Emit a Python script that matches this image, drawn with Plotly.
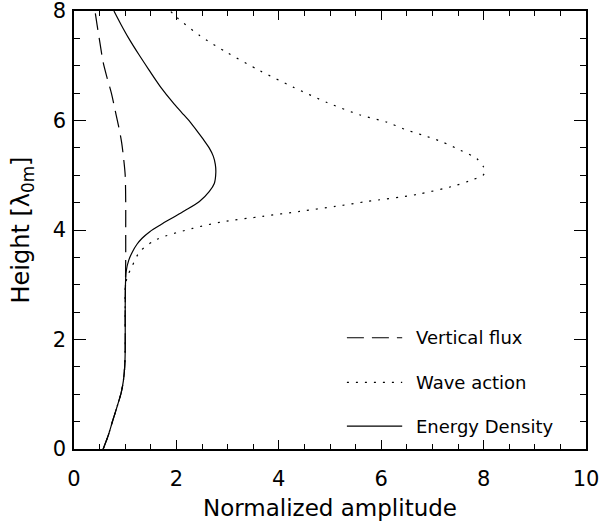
import plotly.graph_objects as go

# Energy density (solid)
y_ed = [0, 0.25, 0.53, 0.8, 1.02, 1.25, 1.5, 1.8, 2.5, 3.0, 3.25, 3.45, 3.6, 3.74, 3.85, 3.97,
        4.1, 4.21, 4.35, 4.52, 4.7, 4.85, 5.05, 5.2, 5.35, 5.5, 5.65, 5.8, 5.97, 6.15, 6.33,
        6.6, 6.93, 7.2, 7.5, 7.75, 8.0]
x_ed = [0.57, 0.67, 0.76, 0.85, 0.92, 0.965, 0.99, 1.0, 1.0, 1.005, 1.02, 1.07, 1.14, 1.23, 1.33, 1.48,
        1.7, 1.9, 2.16, 2.45, 2.64, 2.74, 2.77, 2.76, 2.72, 2.64, 2.53, 2.41, 2.27, 2.1, 1.93,
        1.7, 1.46, 1.27, 1.07, 0.92, 0.78]

# Vertical flux (dashed)
y_vf = [0, 0.25, 0.53, 0.8, 1.02, 1.25, 1.5, 1.8, 2.5, 3.0, 3.5, 4.0, 4.5, 5.0, 5.3, 5.6,
        5.9, 6.2, 6.5, 6.8, 7.06, 7.4, 7.75, 8.0]
x_vf = [0.57, 0.67, 0.76, 0.85, 0.92, 0.965, 0.99, 1.0, 1.0, 1.005, 1.01, 1.01, 1.01, 1.0, 0.97, 0.93,
        0.87, 0.8, 0.73, 0.64, 0.57, 0.51, 0.45, 0.41]

# Wave action (dotted)
y_wa = [0, 0.25, 0.53, 0.8, 1.02, 1.25, 1.5, 1.8, 2.5, 3.0, 3.16, 3.35, 3.61, 3.83, 4.03, 4.15,
        4.25, 4.34, 4.43, 4.52, 4.65, 4.81, 4.92, 5.0, 5.08, 5.15, 5.3, 5.46, 5.61, 5.73, 5.84,
        5.97, 6.1, 6.33, 6.61, 6.91, 7.24, 7.55, 7.88, 8.0]
x_wa = [0.57, 0.67, 0.76, 0.85, 0.92, 0.965, 0.99, 1.0, 1.0, 1.005, 1.05, 1.14, 1.29, 1.62, 2.32, 2.9,
        3.69, 4.41, 5.1, 5.72, 6.7, 7.44, 7.79, 7.99, 8.03, 8.0, 7.87, 7.54, 7.19, 6.82, 6.46,
        6.11, 5.59, 4.94, 4.28, 3.63, 2.99, 2.46, 2.01, 1.88]

legend_labels = ["Vertical flux", "Wave action", "Energy Density"]

FONT = "DejaVu Sans"
LW = 1.2
fig = go.Figure()
fig.add_trace(go.Scatter(x=x_vf, y=y_vf, mode="lines",
                         line=dict(color="black", width=LW, dash="17px,8px", shape="spline", smoothing=0.8)))
fig.add_trace(go.Scatter(x=x_wa, y=y_wa, mode="lines",
                         line=dict(color="black", width=LW, dash="2px,7px", shape="spline", smoothing=0.8)))
fig.add_trace(go.Scatter(x=x_ed, y=y_ed, mode="lines",
                         line=dict(color="black", width=LW, shape="spline", smoothing=0.8)))

# manual legend
rows = [0.254, 0.152, 0.052]
dashes = ["17px,8px", "2px,7px", "solid"]
for lab, ry, d in zip(legend_labels, rows, dashes):
    fig.add_shape(type="line", xref="paper", yref="paper", x0=0.533, x1=0.641, y0=ry, y1=ry,
                  line=dict(color="black", width=LW, dash=d))
    fig.add_annotation(xref="paper", yref="paper", x=0.664, y=ry, text=lab, showarrow=False,
                       xanchor="left", yanchor="middle", font=dict(family=FONT, size=18, color="black"))

axis_common = dict(showline=True, linecolor="black", linewidth=1.5, mirror="ticks", ticks="inside",
                   tickcolor="black", tickwidth=1.2, showgrid=False, zeroline=False,
                   ticklabeloverflow="allow", automargin=False,
                   tickfont=dict(family=FONT, size=21, color="black"))
fig.update_xaxes(range=[0, 10], tickvals=[0, 2, 4, 6, 8, 10], ticklen=9, ticklabelstandoff=10,
                 minor=dict(dtick=0.5, ticks="inside", ticklen=5, tickcolor="black", tickwidth=1.2),
                 title=dict(text="Normalized amplitude", font=dict(family=FONT, size=23, color="black"), standoff=10),
                 **axis_common)
fig.update_yaxes(range=[0, 8.0001], tickvals=[0, 2, 4, 6, 8], ticklen=12, ticklabelstandoff=2,
                 minor=dict(dtick=0.5, ticks="inside", ticklen=6, tickcolor="black", tickwidth=1.2),
                 title=dict(text="Height [λ<sub>0m</sub>]", font=dict(family=FONT, size=24, color="black"), standoff=16),
                 **axis_common)
fig.update_layout(width=602, height=527, margin=dict(l=74, r=16, t=11, b=78),
                  plot_bgcolor="white", paper_bgcolor="white", showlegend=False)
fig.write_html("out.html")
